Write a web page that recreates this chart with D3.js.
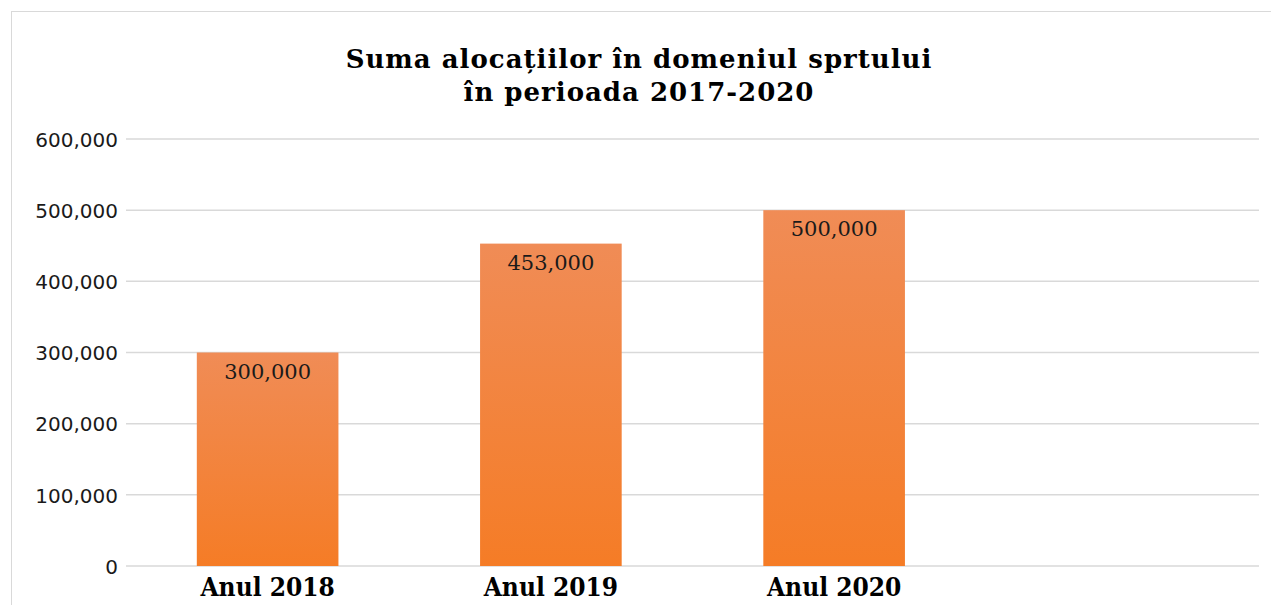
<!DOCTYPE html>
<html lang="ro">
<head>
  <meta charset="UTF-8">
  <title>Suma alocațiilor</title>
  <script src="https://d3js.org/d3.v7.min.js"></script>
  <style>
    body { margin: 0; background: #fff; }
  </style>
</head>
<body>
  <div class="chart"></div>
  <script>
    // date
    const categories = ['Anul 2018', 'Anul 2019', 'Anul 2020', ''];
    const values = [300000, 453000, 500000, null];
    const yTicks = [0, 100000, 200000, 300000, 400000, 500000, 600000];
    const titleLines = ['Suma alocațiilor în domeniul sprtului', 'în perioada 2017-2020'];

    const W = 1271, H = 605;
    const plotLeft = 126, plotRight = 1259, plotTop = 139, plotBottom = 566;

    const svg = d3.select('.chart').append('svg').attr('width', W).attr('height', H);

    const grad = svg.append('defs').append('linearGradient')
      .attr('id', 'barGrad').attr('x1', 0).attr('y1', 0).attr('x2', 0).attr('y2', 1);
    grad.append('stop').attr('offset', '0%').attr('stop-color', '#f08c56');
    grad.append('stop').attr('offset', '100%').attr('stop-color', '#f57c26');

    // chenarul graficului
    svg.append('rect')
      .attr('x', 11.5).attr('y', 11.5).attr('width', W + 10).attr('height', H + 10)
      .attr('fill', '#fff').attr('stroke', '#d9d9d9').attr('stroke-width', 1);

    const x = d3.scaleBand().domain(categories).range([plotLeft, plotRight])
      .paddingInner(0.5).paddingOuter(0.25);
    const y = d3.scaleLinear().domain([0, 600000]).range([plotBottom, plotTop]);

    // linii de grilă
    svg.append('g').selectAll('line')
      .data(yTicks)
      .enter()
      .append('line')
      .attr('x1', plotLeft).attr('x2', plotRight)
      .attr('y1', d => y(d)).attr('y2', d => y(d))
      .attr('stroke', '#d9d9d9').attr('stroke-width', 1.5);

    // axa Y
    const yAxis = svg.append('g')
      .attr('transform', `translate(${plotLeft - 8},0)`)
      .call(d3.axisLeft(y).tickValues(yTicks).tickSize(0).tickPadding(0)
        .tickFormat(d3.format(',')));
    yAxis.select('.domain').remove();
    yAxis.selectAll('text')
      .attr('dy', '0.36em')
      .style('font-family', '"DejaVu Sans", Verdana, sans-serif')
      .style('font-size', '20px')
      .style('fill', '#1a1a1a');

    const data = categories.map((c, i) => ({ c, v: values[i] })).filter(d => d.v != null);

    // bare
    svg.append('g').selectAll('rect')
      .data(data)
      .enter()
      .append('rect')
      .attr('x', d => x(d.c))
      .attr('y', d => y(d.v))
      .attr('width', x.bandwidth())
      .attr('height', d => y(0) - y(d.v))
      .style('fill', 'url(#barGrad)');

    // etichete de valoare
    svg.append('g').selectAll('text')
      .data(data)
      .enter()
      .append('text')
      .attr('x', d => x(d.c) + x.bandwidth() / 2)
      .attr('y', d => y(d.v) + 26)
      .attr('text-anchor', 'middle')
      .style('font-family', '"DejaVu Serif", serif')
      .style('font-size', '21px')
      .style('fill', '#1a1a1a')
      .text(d => d3.format(',')(d.v));

    // axa X
    const xAxis = svg.append('g')
      .attr('transform', `translate(0,${plotBottom})`)
      .call(d3.axisBottom(x).tickSize(0).tickPadding(0));
    xAxis.select('.domain').remove();
    xAxis.selectAll('text')
      .attr('y', 30).attr('dy', 0)
      .style('font-family', '"DejaVu Serif Condensed", "DejaVu Serif", serif')
      .style('font-stretch', 'condensed')
      .style('font-weight', 'bold')
      .style('font-size', '26px')
      .style('fill', '#000');

    // titlu
    svg.append('text')
      .attr('x', 639).attr('y', 68)
      .attr('text-anchor', 'middle')
      .style('font-family', '"DejaVu Serif", serif')
      .style('font-weight', 'bold')
      .style('font-size', '26px')
      .style('letter-spacing', '1px')
      .style('fill', '#000')
      .selectAll('tspan')
      .data(titleLines)
      .enter()
      .append('tspan')
      .attr('x', 639)
      .attr('dy', (d, i) => i === 0 ? 0 : 33)
      .text(d => d);
  </script>
</body>
</html>
